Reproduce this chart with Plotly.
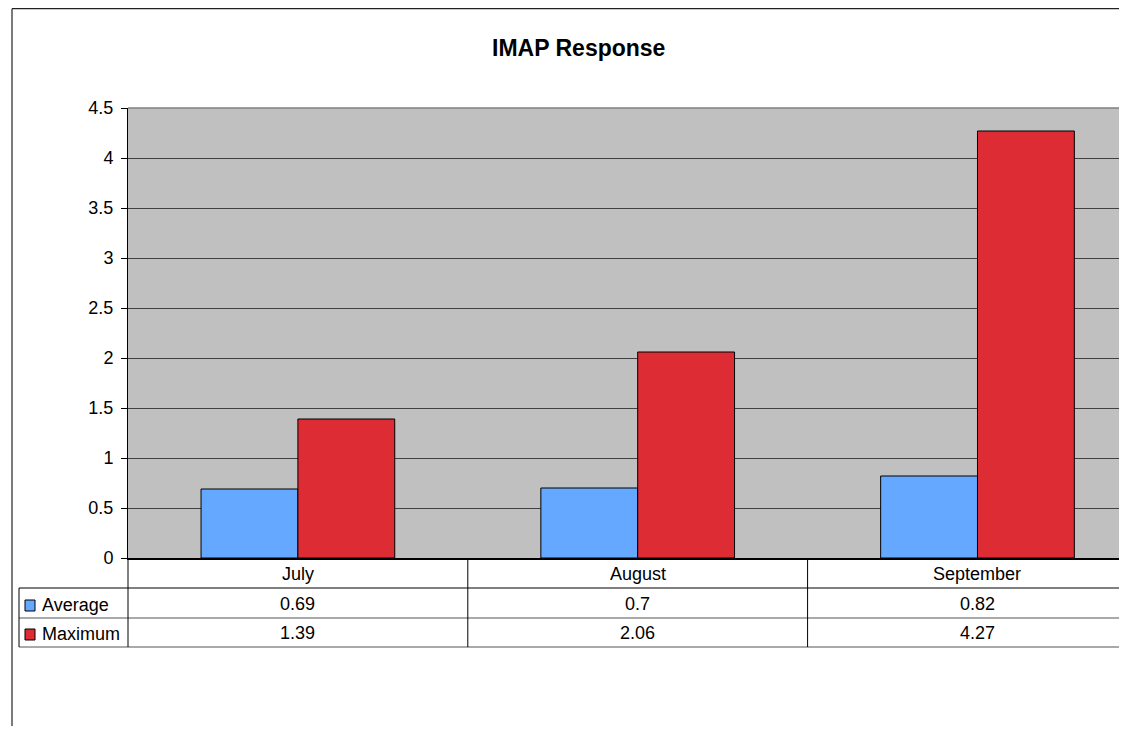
import plotly.graph_objects as go

categories = ["July", "August", "September"]
average = [0.69, 0.7, 0.82]
maximum = [1.39, 2.06, 4.27]
series_names = ["Average", "Maximum"]
y_ticks = [0, 0.5, 1, 1.5, 2, 2.5, 3, 3.5, 4, 4.5]

BLUE = "#64A8FF"
RED = "#DD2C33"
FONT = "Arial, Liberation Sans, sans-serif"

OFF = 8  # page body margin
W, H = 1127 - OFF, 734 - 2 * OFF
L_PAGE, T_PAGE, B_PAGE = 128, 108, 558
L, T = L_PAGE - OFF, T_PAGE - OFF
PW, PH = W - L, B_PAGE - T_PAGE


def xp(px):
    return (px - L_PAGE) / PW


def yp(py):
    return (B_PAGE - py) / PH


fig = go.Figure()
fig.add_trace(go.Bar(x=categories, y=average, name=series_names[0],
                     marker=dict(color=BLUE, line=dict(color="black", width=1))))
fig.add_trace(go.Bar(x=categories, y=maximum, name=series_names[1],
                     marker=dict(color=RED, line=dict(color="black", width=1))))

shapes = []
annotations = []

# outer chart border (left + top)
shapes.append(dict(type="line", xref="paper", yref="paper", x0=xp(12), x1=xp(1200),
                   y0=yp(8.7), y1=yp(8.7), line=dict(color="#222", width=1.2)))
shapes.append(dict(type="line", xref="paper", yref="paper", x0=xp(12), x1=xp(12),
                   y0=yp(8.7), y1=yp(760), line=dict(color="#222", width=1.2)))
# plot-area top border (gray)
shapes.append(dict(type="line", xref="paper", yref="paper", x0=0, x1=1.02,
                   y0=1, y1=1, line=dict(color="#808080", width=1.5)))

# data table lines
shapes.append(dict(type="line", xref="paper", yref="paper", x0=xp(19), x1=1.02,
                   y0=yp(588), y1=yp(588), line=dict(color="black", width=1)))
shapes.append(dict(type="line", xref="paper", yref="paper", x0=xp(19), x1=1.02,
                   y0=yp(618), y1=yp(618), line=dict(color="#555", width=1)))
shapes.append(dict(type="line", xref="paper", yref="paper", x0=xp(19), x1=1.02,
                   y0=yp(647), y1=yp(647), line=dict(color="#555", width=1)))
shapes.append(dict(type="line", xref="paper", yref="paper", x0=xp(19), x1=xp(19),
                   y0=yp(588), y1=yp(647), line=dict(color="black", width=1)))
shapes.append(dict(type="line", xref="paper", yref="paper", x0=0, x1=0,
                   y0=0, y1=yp(647), line=dict(color="black", width=1)))
for b in [0.5, 1.5]:
    shapes.append(dict(type="line", xref="x", yref="paper", x0=b, x1=b,
                       y0=0, y1=yp(647), line=dict(color="black", width=1)))

# legend keys in table
for name, color, top, bot, ty in [(series_names[0], BLUE, 600, 611, 605),
                                  (series_names[1], RED, 629, 640, 634)]:
    shapes.append(dict(type="rect", xref="paper", yref="paper", x0=xp(25), x1=xp(35),
                       y0=yp(bot), y1=yp(top), fillcolor=color,
                       line=dict(color="black", width=1)))
    annotations.append(dict(text=name, xref="paper", yref="paper", x=xp(40), y=yp(ty),
                            xanchor="left", yanchor="middle", showarrow=False,
                            font=dict(family=FONT, size=18, color="black")))

# table text
for i, c in enumerate(categories):
    annotations.append(dict(text=c, xref="x", yref="paper", x=i, y=yp(574),
                            xanchor="center", yanchor="middle", showarrow=False,
                            font=dict(family=FONT, size=18, color="black")))
    annotations.append(dict(text=str(average[i]), xref="x", yref="paper", x=i, y=yp(604),
                            xanchor="center", yanchor="middle", showarrow=False,
                            font=dict(family=FONT, size=18, color="black")))
    annotations.append(dict(text=str(maximum[i]), xref="x", yref="paper", x=i, y=yp(633),
                            xanchor="center", yanchor="middle", showarrow=False,
                            font=dict(family=FONT, size=18, color="black")))

# title
annotations.append(dict(text="<b>IMAP Response</b>", xref="paper", yref="paper",
                        x=xp(578), y=yp(48), xanchor="center", yanchor="middle",
                        showarrow=False, font=dict(family=FONT, size=23, color="black")))

fig.update_layout(
    width=W, height=H,
    margin=dict(l=L, r=0, t=T, b=H - (B_PAGE - OFF), pad=0),
    paper_bgcolor="white",
    plot_bgcolor="#C0C0C0",
    barmode="group",
    bargap=0.43,
    bargroupgap=0,
    showlegend=False,
    shapes=shapes,
    annotations=annotations,
    font=dict(family=FONT, size=18, color="black"),
    xaxis=dict(range=[-0.5, 2.44], showticklabels=False, ticks="", showgrid=False,
               showline=True, linecolor="black", linewidth=1.5, zeroline=False,
               fixedrange=True),
    yaxis=dict(range=[0, 4.5], tickvals=y_ticks, ticktext=[f"{v:g}" for v in y_ticks],
               showgrid=True, gridcolor="#404040", gridwidth=1,
               showline=True, linecolor="black", linewidth=1,
               ticks="outside", ticklen=6, tickcolor="black",
               tickfont=dict(family=FONT, size=18, color="black"),
               ticklabelstandoff=4, zeroline=False),
)

fig.write_html("out.html")
